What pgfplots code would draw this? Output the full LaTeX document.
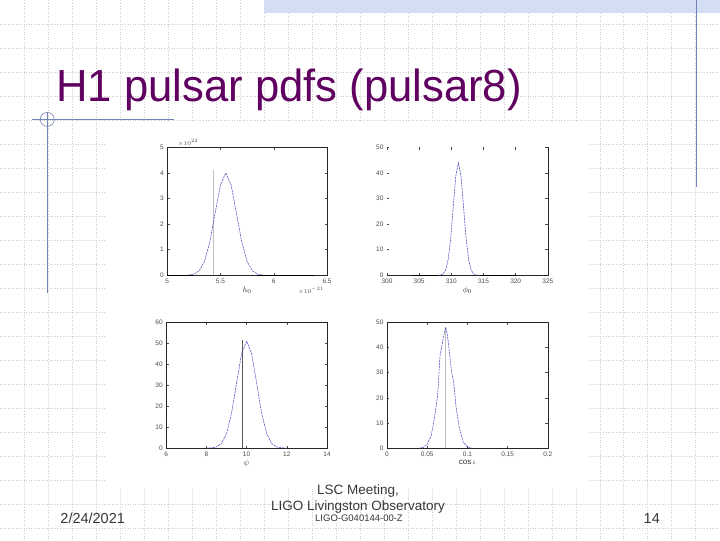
\documentclass[border=0pt]{standalone}
\usepackage{pgfplots}
\pgfplotsset{compat=1.18}
\usepackage{graphicx}
\usepackage{fontspec}
\setmainfont{Liberation Sans}
\definecolor{titlecol}{RGB}{96,0,96}
\definecolor{decoblue}{RGB}{115,130,180}
\definecolor{bandblue}{RGB}{212,222,242}
\definecolor{curveblue}{RGB}{70,70,190}
\definecolor{footgray}{RGB}{55,55,55}
\pgfplotsset{
  slide/.style={
    scale only axis, anchor=south west,
    tick align=inside, major tick length=2.5pt,
    axis line style={black!85, line width=0.5pt},
    tick style={black!70, line width=0.4pt},
    ticklabel style={font=\fontsize{6.5}{7}\selectfont, text=black!70},
    /pgf/number format/assume math mode=true,
    label style={font=\fontsize{8}{9}\selectfont, text=black!80},
    xlabel style={yshift=3pt},
    clip=false,
  },
  pdf/.style={curveblue, line width=0.5pt, dash pattern=on 2.2pt off 0.8pt, no marks},
}
\begin{document}
\begin{tikzpicture}
% page
\path[fill=white] (0pt,0pt) rectangle (720pt,-540pt);
\foreach \i in {1,...,29} \draw[gray!40, dotted, line width=0.6pt] (\i*24pt,0pt) -- (\i*24pt,-540pt);
\foreach \i in {1,...,22} \draw[gray!40, dotted, line width=0.6pt] (0pt,-\i*24pt) -- (720pt,-\i*24pt);
\path[fill=white] (105pt,-122pt) rectangle (590pt,-487pt);
\path[fill=bandblue] (264pt,0pt) rectangle (720pt,-13pt);
\draw[decoblue, line width=1pt] (697pt,0pt) -- (697pt,-187pt);
\draw[decoblue, line width=0.9pt] (32pt,-119pt) -- (174pt,-119pt);
\draw[decoblue, line width=0.9pt] (47pt,-112pt) -- (47pt,-293pt);
\draw[decoblue, line width=0.6pt] (47pt,-119pt) circle (7pt);
% title
\node[anchor=base west, text=titlecol, font=\fontsize{45}{54}\selectfont, inner sep=0pt] at (56pt,-101pt) {\scalebox{0.97}[1]{H1 pulsar pdfs (pulsar8)}};
% footer
\node[anchor=base west, text=footgray, font=\fontsize{14.5}{16}\selectfont, inner sep=0pt] at (60pt,-523pt) {2/24/2021};
\node[anchor=base, text=footgray, font=\fontsize{14.5}{16}\selectfont, inner sep=0pt] at (652pt,-523pt) {14};
\node[anchor=base, text=footgray, font=\fontsize{13.5}{16}\selectfont, inner sep=0pt] at (358pt,-494pt) {LSC Meeting,};
\node[anchor=base, text=footgray, font=\fontsize{13.5}{16}\selectfont, inner sep=0pt] at (358pt,-510pt) {LIGO Livingston Observatory};
\node[anchor=base, text=footgray, font=\fontsize{9.5}{11}\selectfont, inner sep=0pt] at (359pt,-521pt) {LIGO-G040144-00-Z};

% ---- top left: h0
\begin{axis}[slide, at={(167pt,-275pt)}, width=160pt, height=128pt,
  xmin=5, xmax=6.5, ymin=0, ymax=5,
  xtick={5,5.5,6,6.5}, xticklabels={5,5.5,6,6.5}, ytick={0,1,2,3,4,5},
  xlabel={$h_0$}]
\addplot[black!25, line width=0.6pt] coordinates {(5.43,0) (5.43,4.1)};
\addplot[pdf] coordinates {
(5.20,0.009) (5.25,0.044) (5.30,0.176) (5.35,0.541) (5.40,1.30) (5.45,2.43)
(5.50,3.53) (5.55,4.00) (5.60,3.53) (5.65,2.43) (5.70,1.30) (5.75,0.541)
(5.80,0.176) (5.85,0.044) (5.90,0.009)};
\addplot[black, line width=1pt] coordinates {(5,0) (5.24,0)};
\addplot[black, line width=1pt] coordinates {(5.84,0) (6.38,0)};
\node[anchor=south west, font=\fontsize{6}{7}\selectfont, text=black!70, inner sep=1pt] at (rel axis cs:0.06,1) {$\times10^{22}$};
\node[anchor=north, font=\fontsize{6}{7}\selectfont, text=black!70, inner sep=1pt] at (rel axis cs:0.90,-0.085) {$\times10^{-21}$};
\end{axis}

% ---- top right: phi0
\begin{axis}[slide, at={(387pt,-275pt)}, width=161pt, height=128pt,
  xmin=300, xmax=325, ymin=0, ymax=50,
  xtick={300,305,310,315,320,325}, ytick={0,10,20,30,40,50},
  xlabel={$\phi_0$}, axis line style={draw=none}]
\draw[black!85, line width=0.5pt] (rel axis cs:0,0) -- (rel axis cs:1,0) -- (rel axis cs:1,1);
\addplot[pdf] coordinates {
(307.9,0.015) (308.3,0.096) (308.7,0.49) (309.1,1.93) (309.5,5.95) (309.9,14.29)
(310.3,26.69) (310.7,38.83) (311.1,44.0) (311.5,38.83) (311.9,26.69) (312.3,14.29)
(312.7,5.95) (313.1,1.93) (313.5,0.49) (313.9,0.096) (314.3,0.015)};
\addplot[black, line width=1pt] coordinates {(303.9,0) (308,0)};
\addplot[black, line width=1pt] coordinates {(314.5,0) (320,0)};
\end{axis}

% ---- bottom left: psi
\begin{axis}[slide, at={(166pt,-448pt)}, width=161pt, height=126pt,
  xmin=6, xmax=14, ymin=0, ymax=60,
  xtick={6,8,10,12,14}, ytick={0,10,20,30,40,50,60},
  xlabel={$\psi$}]
\addplot[black!65, line width=0.6pt] coordinates {(9.78,0) (9.78,51.5)};
\addplot[pdf] coordinates {
(8.00,0.017) (8.25,0.11) (8.50,0.57) (8.75,2.24) (9.00,6.90) (9.25,16.56)
(9.50,30.93) (9.75,45.01) (10.00,51.0) (10.25,45.01) (10.50,30.93) (10.75,16.56)
(11.00,6.90) (11.25,2.24) (11.50,0.57) (11.75,0.11) (12.00,0.017)};
\end{axis}

% ---- bottom right: cos iota
\begin{axis}[slide, at={(387pt,-448pt)}, width=161pt, height=126pt,
  xmin=0, xmax=0.2, ymin=0, ymax=50,
  xtick={0,0.05,0.1,0.15,0.2}, xticklabels={0,0.05,0.1,0.15,0.2},
  ytick={0,10,20,30,40,50},
  xlabel={$\cos\iota$}]
\addplot[black!25, line width=0.6pt] coordinates {(0.073,0) (0.073,48)};
\addplot[pdf] coordinates {
(0.040,0) (0.045,0.3) (0.050,1.5) (0.055,5) (0.058,10) (0.060,14) (0.063,21)
(0.066,37) (0.068,40) (0.070,44) (0.073,48) (0.075,45) (0.077,40) (0.080,31)
(0.083,26) (0.086,16) (0.090,8) (0.095,2.2) (0.100,0.5) (0.105,0)};
\end{axis}
\end{tikzpicture}
\end{document}
